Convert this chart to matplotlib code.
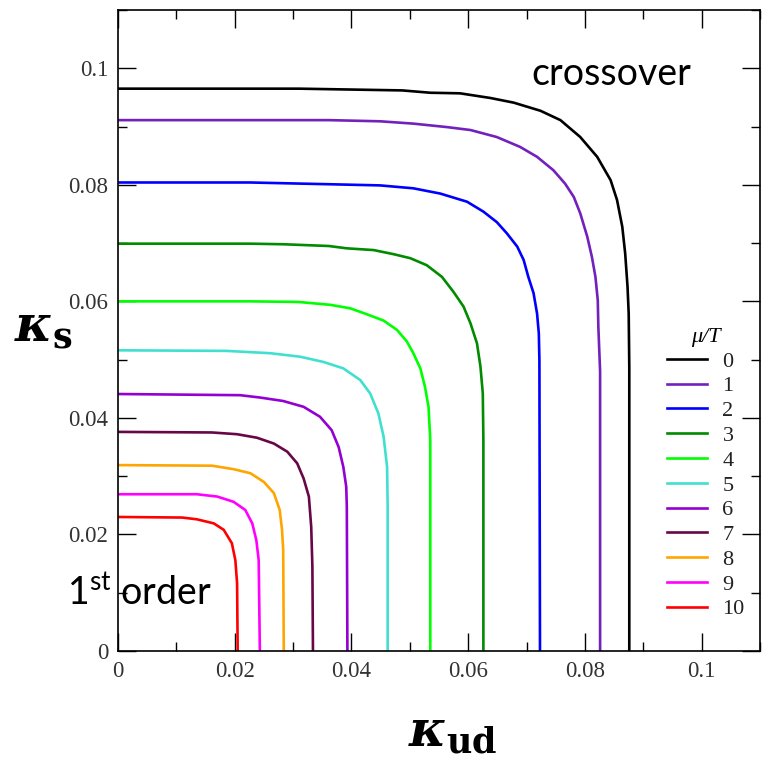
import matplotlib
matplotlib.use('Agg')
import matplotlib.pyplot as plt
from matplotlib.ticker import MultipleLocator, FuncFormatter

# math fonts for the kappa axis labels and the superscript in "1st order"
plt.rcParams['mathtext.fontset'] = 'custom'
plt.rcParams['mathtext.it'] = 'DejaVu Serif:italic:bold'
plt.rcParams['mathtext.bf'] = 'DejaVu Serif:bold'
plt.rcParams['mathtext.rm'] = 'Lato'

# curves: kappa_ud (x) and kappa_s (y) for each mu/T
kud_mu0 = [0, 0.0310, 0.0487, 0.0535, 0.0586, 0.0638, 0.0678, 0.0724, 0.0758, 0.0792,
           0.0821, 0.0844, 0.0855, 0.0864, 0.0869, 0.0873, 0.0875, 0.0876, 0.0876]
ks_mu0 = [0.0965, 0.0965, 0.0962, 0.0958, 0.0957, 0.0949, 0.0941, 0.0927, 0.0911, 0.0882,
          0.0848, 0.0808, 0.0774, 0.0728, 0.0682, 0.0625, 0.0579, 0.0487, 0]

kud_mu1 = [0, 0.0361, 0.0449, 0.0506, 0.0564, 0.0604, 0.0649, 0.0689, 0.0718, 0.0746,
           0.0766, 0.0781, 0.0792, 0.0804, 0.0812, 0.0818, 0.0822, 0.0823, 0.0826, 0.0826]
ks_mu1 = [0.0911, 0.0911, 0.0909, 0.0905, 0.0899, 0.0894, 0.0882, 0.0865, 0.0848, 0.0825,
          0.0802, 0.0779, 0.0751, 0.0711, 0.0676, 0.0642, 0.0602, 0.0556, 0.0480, 0]

kud_mu2 = [0, 0.0226, 0.0361, 0.0449, 0.0506, 0.0552, 0.0598, 0.0626, 0.0649, 0.0666,
           0.0684, 0.0695, 0.0703, 0.0712, 0.0718, 0.0721, 0.0722, 0.0723]
ks_mu2 = [0.0804, 0.0804, 0.0801, 0.0799, 0.0794, 0.0785, 0.0771, 0.0754, 0.0736, 0.0717,
          0.0694, 0.0671, 0.0642, 0.0614, 0.0579, 0.0545, 0.0499, 0]

kud_mu3 = [0, 0.0226, 0.0283, 0.0361, 0.0392, 0.0438, 0.0472, 0.0501, 0.0529, 0.0555,
           0.0575, 0.0592, 0.0604, 0.0615, 0.0621, 0.0625, 0.0626, 0.0626]
ks_mu3 = [0.0699, 0.0699, 0.0698, 0.0695, 0.0691, 0.0688, 0.0681, 0.0674, 0.0662, 0.0642,
          0.0616, 0.0591, 0.0562, 0.0528, 0.0488, 0.0442, 0.0362, 0]

kud_mu4 = [0, 0.0226, 0.0309, 0.0364, 0.0398, 0.0426, 0.0455, 0.0478, 0.0495, 0.0506,
           0.0518, 0.0526, 0.0532, 0.0535, 0.0535]
ks_mu4 = [0.0600, 0.0600, 0.0599, 0.0594, 0.0588, 0.0578, 0.0567, 0.0551, 0.0531, 0.0511,
          0.0485, 0.0453, 0.0419, 0.0362, 0]

kud_mu5 = [0, 0.0186, 0.0261, 0.0312, 0.0352, 0.0386, 0.0415, 0.0432, 0.0446, 0.0455,
           0.0461, 0.0462, 0.0462]
ks_mu5 = [0.0516, 0.0515, 0.0511, 0.0505, 0.0496, 0.0485, 0.0465, 0.0442, 0.0408, 0.0368,
          0.0316, 0.0248, 0]

kud_mu6 = [0, 0.0209, 0.0243, 0.0283, 0.0318, 0.0346, 0.0366, 0.0378, 0.0386, 0.0391,
           0.0392, 0.0393]
ks_mu6 = [0.0441, 0.0439, 0.0435, 0.0429, 0.0419, 0.0402, 0.0379, 0.0350, 0.0316, 0.0282,
          0.0248, 0]

kud_mu7 = [0, 0.0161, 0.0204, 0.0238, 0.0267, 0.0290, 0.0307, 0.0318, 0.0327, 0.0331,
           0.0333, 0.0334]
ks_mu7 = [0.0376, 0.0375, 0.0372, 0.0366, 0.0356, 0.0342, 0.0322, 0.0296, 0.0265, 0.0213,
          0.0145, 0]

kud_mu8 = [0, 0.0161, 0.0198, 0.0227, 0.0250, 0.0267, 0.0277, 0.0281, 0.0283, 0.0284]
ks_mu8 = [0.0319, 0.0318, 0.0312, 0.0305, 0.0290, 0.0271, 0.0242, 0.0208, 0.0173, 0]

kud_mu9 = [0, 0.0135, 0.0170, 0.0198, 0.0218, 0.0230, 0.0237, 0.0241, 0.0243]
ks_mu9 = [0.0269, 0.0269, 0.0265, 0.0256, 0.0242, 0.0219, 0.0190, 0.0156, 0]

kud_mu10 = [0, 0.0110, 0.0135, 0.0164, 0.0181, 0.0195, 0.0201, 0.0204, 0.0205]
ks_mu10 = [0.0230, 0.0229, 0.0226, 0.0219, 0.0208, 0.0185, 0.0156, 0.0116, 0]

mu_T = [0, 1, 2, 3, 4, 5, 6, 7, 8, 9, 10]
kud_curves = [kud_mu0, kud_mu1, kud_mu2, kud_mu3, kud_mu4, kud_mu5,
              kud_mu6, kud_mu7, kud_mu8, kud_mu9, kud_mu10]
ks_curves = [ks_mu0, ks_mu1, ks_mu2, ks_mu3, ks_mu4, ks_mu5,
             ks_mu6, ks_mu7, ks_mu8, ks_mu9, ks_mu10]
colors = ['#000000', '#7221bc', '#0000ff', '#008b00', '#00ff00', '#40e0d0',
          '#9400d3', '#670748', '#ffa500', '#ff00ff', '#ff0000']

fig = plt.figure(figsize=(7.73, 7.63), dpi=100)
ax = fig.add_axes([0.1527, 0.1468, 0.8305, 0.8401])

for mu, kud, ks, c in zip(mu_T, kud_curves, ks_curves, colors):
    ax.plot(kud, ks, color=c, lw=1.9, label=str(mu), solid_joinstyle='round')

ax.set_xlim(0, 0.11)
ax.set_ylim(0, 0.11)

ax.xaxis.set_major_locator(MultipleLocator(0.02))
ax.xaxis.set_minor_locator(MultipleLocator(0.01))
ax.yaxis.set_major_locator(MultipleLocator(0.02))
ax.yaxis.set_minor_locator(MultipleLocator(0.01))
fmt = FuncFormatter(lambda v, p: '%g' % round(v, 3))
ax.xaxis.set_major_formatter(fmt)
ax.yaxis.set_major_formatter(fmt)

ax.tick_params(which='both', direction='in', top=True, right=True, width=1.0)
ax.tick_params(which='major', length=13, pad=7, labelsize=16.5, labelcolor='#333333')
ax.tick_params(which='minor', length=6.5)
for lab in ax.get_xticklabels() + ax.get_yticklabels():
    lab.set_family('Liberation Serif')
for sp in ax.spines.values():
    sp.set_linewidth(1.2)

leg = ax.legend(title='μ/T', frameon=False, loc='upper left',
                bbox_to_anchor=(0.855, 0.504), borderpad=0, borderaxespad=0,
                handlelength=1.8, handletextpad=0.7, labelspacing=0.19,
                prop={'family': 'Liberation Serif', 'size': 16})
leg.get_title().set_family('Liberation Serif')
leg.get_title().set_fontstyle('italic')
leg.get_title().set_fontsize(16)
for t in leg.get_texts():
    t.set_color('#222222')

ax.text(0.0845, 0.0971, 'crossover', family='Lato', fontsize=27,
        ha='center', va='baseline')
ax.text(-0.0087, 0.0079, '1$^{\\mathrm{st}}$ order', family='Lato', fontsize=27,
        ha='left', va='baseline', clip_on=False)

fig.text(0.0556, 0.552, r'$\kappa_{\mathbf{s}}$', fontsize=36, ha='center', va='baseline')
fig.text(0.585, 0.021, r'$\kappa_{\mathbf{ud}}$', fontsize=36, ha='center', va='baseline')

fig.savefig('out.png', dpi=100)
